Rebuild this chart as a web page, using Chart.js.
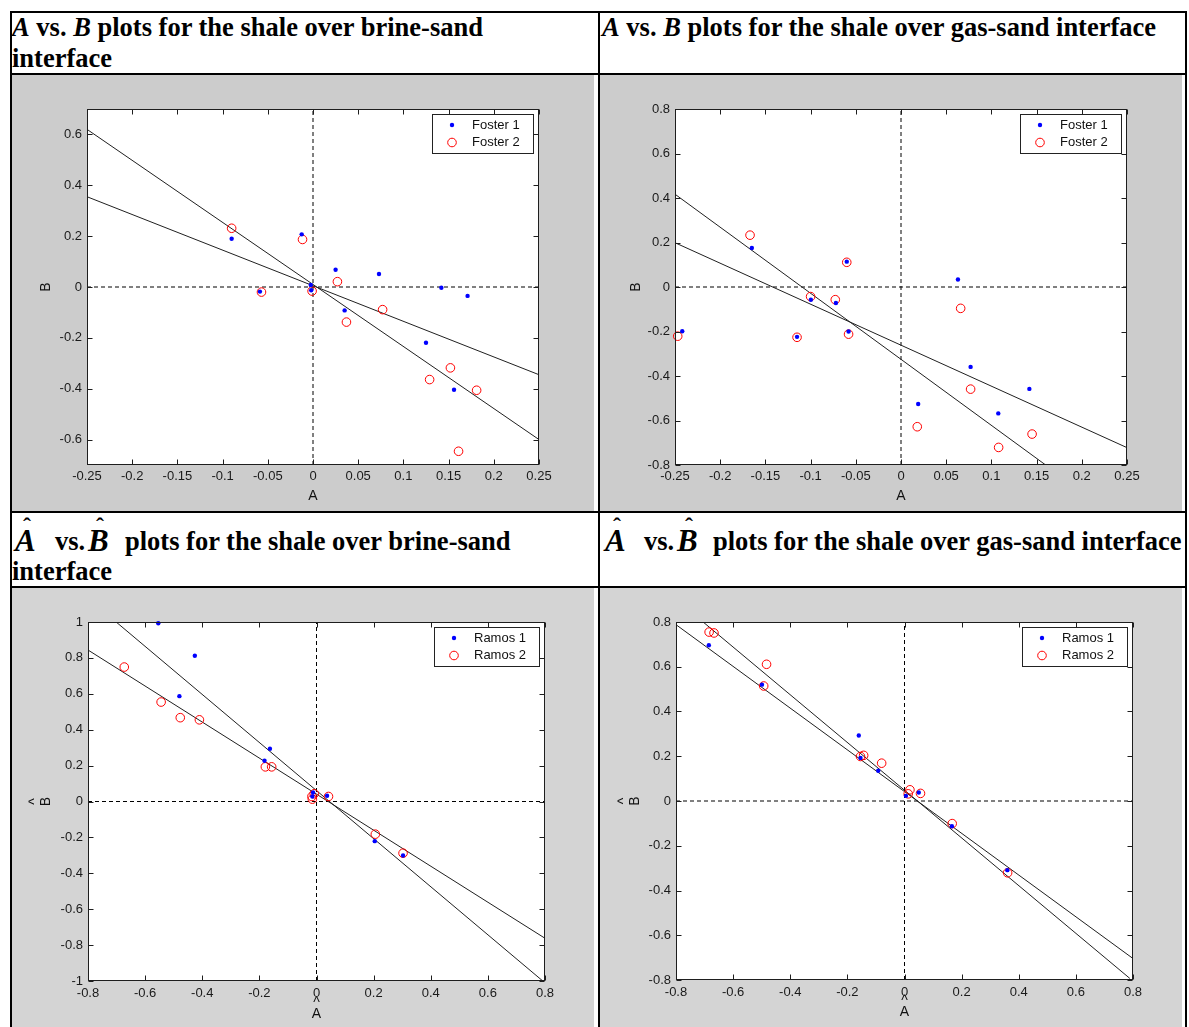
<!DOCTYPE html>
<html>
<head>
<meta charset="utf-8">
<script src="https://cdn.jsdelivr.net/npm/chart.js@4.4.0/dist/chart.umd.min.js"></script>
<style>
  html, body { margin: 0; padding: 0; background: #fff; }
  body { width: 1189px; height: 1027px; position: relative; overflow: hidden; }
  .rule { position: absolute; background: #000; }
  canvas.plot { position: absolute; display: block; }
  .line { position: absolute; height: 30px; font-family: "Liberation Serif", "Times New Roman", serif;
          font-weight: bold; font-size: 26.5px; line-height: 30px; white-space: nowrap; color: #000; }
  .line i { font-style: italic; }
  .line span { position: absolute; top: 0; }
  .eq { font-style: italic; font-size: 31px; line-height: 30px; }
  .hat { position: absolute; font-style: normal; font-size: 24px; line-height: 24px; }
</style>
</head>
<body>
<!-- table rules -->
<div class="rule" style="left:10px;top:11px;width:1177px;height:2px"></div>
<div class="rule" style="left:10px;top:73px;width:1177px;height:2px"></div>
<div class="rule" style="left:10px;top:511px;width:1177px;height:2px"></div>
<div class="rule" style="left:10px;top:586px;width:1177px;height:2px"></div>
<div class="rule" style="left:10px;top:11px;width:2px;height:1016px"></div>
<div class="rule" style="left:598px;top:11px;width:2px;height:1016px"></div>
<div class="rule" style="left:1185px;top:11px;width:2px;height:1016px"></div>

<!-- headers -->
<div class="line" style="left:12px;top:12px"><i>A</i> vs. <i>B</i> plots for the shale over brine-sand</div>
<div class="line" style="left:12px;top:43px">interface</div>
<div class="line" style="left:602px;top:12px"><i>A</i> vs. <i>B</i> plots for the shale over gas-sand interface</div>

<div class="line" style="left:0;top:526px;width:598px">
  <span class="eq" style="left:15px">A<b class="hat" style="left:8px;top:-12px">ˆ</b></span>
  <span style="left:55px">vs.</span>
  <span class="eq" style="left:88px">B<b class="hat" style="left:8px;top:-12px">ˆ</b></span>
  <span style="left:125px">plots for the shale over brine-sand</span>
</div>
<div class="line" style="left:12px;top:556px">interface</div>
<div class="line" style="left:590px;top:526px;width:597px">
  <span class="eq" style="left:15px">A<b class="hat" style="left:8px;top:-12px">ˆ</b></span>
  <span style="left:54px">vs.</span>
  <span class="eq" style="left:87px">B<b class="hat" style="left:8px;top:-12px">ˆ</b></span>
  <span style="left:123px">plots for the shale over gas-sand interface</span>
</div>

<canvas id="p1" class="plot" width="582" height="436" style="left:12px;top:75px"></canvas>
<canvas id="p2" class="plot" width="582" height="436" style="left:600px;top:75px"></canvas>
<canvas id="p3" class="plot" width="582" height="439" style="left:12px;top:588px"></canvas>
<canvas id="p4" class="plot" width="582" height="439" style="left:600px;top:588px"></canvas>

<script>
// ---- ticks ----
const X_TICKS_AB = [-0.25, -0.2, -0.15, -0.1, -0.05, 0, 0.05, 0.1, 0.15, 0.2, 0.25];
const X_LABELS_AB = ['-0.25', '-0.2', '-0.15', '-0.1', '-0.05', '0', '0.05', '0.1', '0.15', '0.2', '0.25'];
const Y_TICKS_P1 = [-0.6, -0.4, -0.2, 0, 0.2, 0.4, 0.6];
const Y_LABELS_P1 = ['-0.6', '-0.4', '-0.2', '0', '0.2', '0.4', '0.6'];
const Y_TICKS_08 = [-0.8, -0.6, -0.4, -0.2, 0, 0.2, 0.4, 0.6, 0.8];
const Y_LABELS_08 = ['-0.8', '-0.6', '-0.4', '-0.2', '0', '0.2', '0.4', '0.6', '0.8'];
const X_TICKS_HAT = [-0.8, -0.6, -0.4, -0.2, 0, 0.2, 0.4, 0.6, 0.8];
const X_LABELS_HAT = ['-0.8', '-0.6', '-0.4', '-0.2', '0', '0.2', '0.4', '0.6', '0.8'];
const Y_TICKS_P3 = [-1, -0.8, -0.6, -0.4, -0.2, 0, 0.2, 0.4, 0.6, 0.8, 1];
const Y_LABELS_P3 = ['-1', '-0.8', '-0.6', '-0.4', '-0.2', '0', '0.2', '0.4', '0.6', '0.8', '1'];

// ---- plot 1: A vs B, shale over brine-sand ----
const P1_F1_A = [-0.090, -0.0125, -0.0587, -0.0025, -0.002, 0.025, 0.073, 0.035, 0.142, 0.171, 0.125, 0.156];
const P1_F1_B = [0.190, 0.207, -0.018, 0.008, -0.013, 0.068, 0.051, -0.092, -0.003, -0.035, -0.219, -0.404];
const P1_F2_A = [-0.090, -0.0116, -0.057, -0.001, 0.027, 0.037, 0.077, 0.152, 0.129, 0.181, 0.161];
const P1_F2_B = [0.231, 0.187, -0.020, -0.016, 0.021, -0.138, -0.089, -0.318, -0.364, -0.406, -0.646];
const P1_FIT1_A = [-0.25, 0.25], P1_FIT1_B = [0.62, -0.60];
const P1_FIT2_A = [-0.25, 0.25], P1_FIT2_B = [0.355, -0.345];

// ---- plot 2: A vs B, shale over gas-sand ----
const P2_F1_A = [-0.242, -0.165, -0.115, -0.0997, -0.072, -0.060, -0.058, 0.063, 0.077, 0.019, 0.1076, 0.142];
const P2_F1_B = [-0.199, 0.175, -0.224, -0.057, -0.072, 0.114, -0.200, 0.034, -0.359, -0.526, -0.568, -0.458];
const P2_F2_A = [-0.247, -0.167, -0.115, -0.100, -0.0727, -0.060, -0.058, 0.066, 0.077, 0.018, 0.108, 0.145];
const P2_F2_B = [-0.221, 0.233, -0.226, -0.043, -0.057, 0.111, -0.212, -0.096, -0.459, -0.628, -0.721, -0.661];
const P2_FIT1_A = [-0.25, 0.25], P2_FIT1_B = [0.417, -1.067];
const P2_FIT2_A = [-0.25, 0.25], P2_FIT2_B = [0.199, -0.722];

// ---- plot 3: A^ vs B^, shale over brine-sand ----
const P3_R1_A = [-0.554, -0.426, -0.480, -0.163, -0.182, -0.012, -0.0145, 0.037, 0.204, 0.303];
const P3_R1_B = [0.993, 0.812, 0.587, 0.294, 0.227, 0.050, 0.028, 0.032, -0.221, -0.301];
const P3_R2_A = [-0.673, -0.544, -0.477, -0.410, -0.179, -0.157, -0.016, -0.0145, -0.008, 0.042, 0.206, 0.303];
const P3_R2_B = [0.749, 0.554, 0.467, 0.455, 0.193, 0.193, 0.028, 0.013, 0.043, 0.028, -0.182, -0.288];
const P3_FIT1_A = [-0.70, 0.79], P3_FIT1_B = [0.998, -0.997];
const P3_FIT2_A = [-0.8, 0.8], P3_FIT2_B = [0.844, -0.762];

// ---- plot 4: A^ vs B^, shale over gas-sand ----
const P4_R1_A = [-0.685, -0.499, -0.160, -0.154, -0.092, 0.005, 0.050, 0.166, 0.360];
const P4_R1_B = [0.696, 0.520, 0.293, 0.192, 0.135, 0.023, 0.038, -0.113, -0.309];
const P4_R2_A = [-0.684, -0.667, -0.483, -0.493, -0.154, -0.143, -0.080, 0.019, 0.013, 0.056, 0.167, 0.361];
const P4_R2_B = [0.755, 0.751, 0.611, 0.514, 0.199, 0.204, 0.169, 0.050, 0.032, 0.034, -0.101, -0.321];
const P4_FIT1_A = [-0.705, 0.789], P4_FIT1_B = [0.8, -0.793];
const P4_FIT2_A = [-0.8, 0.8], P4_FIT2_B = [0.788, -0.704];

const FOSTER = ['Foster 1', 'Foster 2'];
const RAMOS = ['Ramos 1', 'Ramos 2'];

const SANS = '"Liberation Sans", Arial, Helvetica, sans-serif';
const pts = (xs, ys) => xs.map((x, i) => ({ x, y: ys[i] }));

// gray figure + white axes
const backdrop = {
  id: 'backdrop',
  beforeDraw(chart, args, opts) {
    const { ctx, chartArea: a, width, height } = chart;
    ctx.save();
    ctx.fillStyle = opts.bg;
    ctx.fillRect(0, 0, width, height);
    ctx.fillStyle = '#fff';
    ctx.fillRect(a.left, a.top, a.right - a.left, a.bottom - a.top);
    ctx.restore();
  },
};

// matlab box: frame + inward ticks on all four sides
const boxTicks = {
  id: 'boxTicks',
  afterDatasetsDraw(chart) {
    const { ctx, chartArea: a, scales } = chart;
    const L = Math.round(a.left) + 0.5, R = Math.round(a.right) - 0.5;
    const T = Math.round(a.top) + 0.5, B = Math.round(a.bottom) - 0.5;
    ctx.save();
    ctx.strokeStyle = '#1e1e1e';
    ctx.lineWidth = 1;
    ctx.beginPath();
    scales.x.ticks.forEach((t) => {
      const px = Math.round(scales.x.getPixelForValue(t.value)) + 0.5;
      ctx.moveTo(px, B); ctx.lineTo(px, B - 5);
      ctx.moveTo(px, T); ctx.lineTo(px, T + 5);
    });
    scales.y.ticks.forEach((t) => {
      const py = Math.round(scales.y.getPixelForValue(t.value)) + 0.5;
      ctx.moveTo(L, py); ctx.lineTo(L + 5, py);
      ctx.moveTo(R, py); ctx.lineTo(R - 5, py);
    });
    ctx.stroke();
    ctx.strokeRect(L, T, R - L, B - T);
    ctx.restore();
  },
};

// legend box in the top-right corner of the axes
const legendBox = {
  id: 'legendBox',
  afterDraw(chart) {
    const { ctx, chartArea: a } = chart;
    const items = chart.data.datasets.filter((d) => d.inLegend);
    ctx.save();
    ctx.font = '13px ' + SANS;
    const tw = Math.max(...items.map((d) => ctx.measureText(d.label).width));
    const w = Math.round(40 + tw + 13), h = 39;
    const x0 = Math.round(a.right - 6 - w), y0 = Math.round(a.top + 5);
    ctx.fillStyle = '#fff';
    ctx.fillRect(x0, y0, w, h);
    ctx.strokeStyle = '#222';
    ctx.lineWidth = 1;
    ctx.strokeRect(x0 + 0.5, y0 + 0.5, w, h);
    items.forEach((d, i) => {
      const cy = y0 + 11 + i * 17.5, cx = x0 + 20;
      ctx.beginPath();
      ctx.arc(cx, cy, d.pointRadius, 0, Math.PI * 2);
      if (d.pointBorderWidth) {
        ctx.strokeStyle = d.pointBorderColor; ctx.lineWidth = d.pointBorderWidth; ctx.stroke();
      } else {
        ctx.fillStyle = d.pointBackgroundColor; ctx.fill();
      }
      ctx.fillStyle = '#111';
      ctx.textBaseline = 'middle';
      ctx.fillText(d.label, x0 + 40, cy);
    });
    ctx.restore();
  },
};

function makePlot(id, o) {
  const cv = document.getElementById(id);
  const W = cv.width, H = cv.height;
  const padL = 8, padB = 4;
  const tFont = { family: SANS, size: 14, lineHeight: o.hat ? 0.75 : 1.2 };
  const lh = tFont.size * tFont.lineHeight;
  const nLines = o.hat ? 2 : 1;
  const yTitlePad = (o.area.l - o.titleOff.y) - padL - lh / 2 - lh * (nLines - 1);
  const xTitlePad = H - padB - lh / 2 - (o.area.b + o.titleOff.x);
  const fitLine = { showLine: true, borderColor: '#202020', borderWidth: 1, pointRadius: 0, fill: false };
  const zeroLine = { showLine: true, borderColor: '#000', borderWidth: 1, borderDash: [4, 3], pointRadius: 0, fill: false };

  return new Chart(cv, {
    type: 'scatter',
    data: {
      datasets: [
        { label: o.names[0], inLegend: true, data: pts(o.s1[0], o.s1[1]), pointRadius: 2.2,
          pointBackgroundColor: '#0000ff', pointBorderColor: '#0000ff', pointBorderWidth: 0, clip: false },
        { label: o.names[1], inLegend: true, data: pts(o.s2[0], o.s2[1]), pointRadius: 4.3,
          pointBackgroundColor: 'rgba(0,0,0,0)', pointBorderColor: '#ff0000', pointBorderWidth: 1, clip: false },
        { ...fitLine, data: pts(o.fit1[0], o.fit1[1]) },
        { ...fitLine, data: pts(o.fit2[0], o.fit2[1]) },
        { ...zeroLine, data: [{ x: 0, y: o.yMin }, { x: 0, y: o.yMax }] },
        { ...zeroLine, data: [{ x: o.xMin, y: 0 }, { x: o.xMax, y: 0 }] },
      ],
    },
    options: {
      responsive: false, animation: false, devicePixelRatio: 1, events: [],
      layout: { autoPadding: false, padding: { left: padL, right: W - o.area.r, top: o.area.t, bottom: padB } },
      plugins: { legend: { display: false }, tooltip: { enabled: false }, backdrop: { bg: o.bg } },
      scales: {
        x: {
          type: 'linear', min: o.xMin, max: o.xMax, bounds: 'data',
          afterBuildTicks: (s) => { s.ticks = o.xTicks.map((v) => ({ value: v })); },
          afterFit: (s) => { s.height = H - padB - o.area.b; s.paddingLeft = 0; s.paddingRight = 0; },
          ticks: { callback: (v, i) => o.xLabels[i], autoSkip: false, maxRotation: 0, padding: o.xPad,
                   color: '#1a1a1a', font: { family: SANS, size: 13 } },
          grid: { display: false, drawTicks: false }, border: { display: false },
          title: { display: true, text: o.xTitle, color: '#111', font: tFont, padding: { top: 0, bottom: xTitlePad } },
        },
        y: {
          type: 'linear', min: o.yMin, max: o.yMax, bounds: 'data',
          afterBuildTicks: (s) => { s.ticks = o.yTicks.map((v) => ({ value: v })); },
          afterFit: (s) => { s.width = o.area.l - padL; s.paddingTop = 0; s.paddingBottom = 0; },
          ticks: { callback: (v, i) => o.yLabels[i], autoSkip: false, padding: 5,
                   color: '#1a1a1a', font: { family: SANS, size: 13 } },
          grid: { display: false, drawTicks: false }, border: { display: false },
          title: { display: true, text: o.yTitle, color: '#111', font: tFont, padding: { top: yTitlePad, bottom: 0 } },
        },
      },
    },
    plugins: [backdrop, boxTicks, legendBox],
  });
}

makePlot('p1', {
  bg: '#cccccc', area: { l: 75, r: 527, t: 34, b: 390 }, titleOff: { x: 31, y: 40.5 }, xPad: 4,
  xMin: -0.25, xMax: 0.25, yMin: -0.7, yMax: 0.7,
  xTicks: X_TICKS_AB, xLabels: X_LABELS_AB, yTicks: Y_TICKS_P1, yLabels: Y_LABELS_P1,
  xTitle: 'A', yTitle: 'B', names: FOSTER,
  s1: [P1_F1_A, P1_F1_B], s2: [P1_F2_A, P1_F2_B], fit1: [P1_FIT1_A, P1_FIT1_B], fit2: [P1_FIT2_A, P1_FIT2_B],
});
makePlot('p2', {
  bg: '#cccccc', area: { l: 75, r: 527, t: 34, b: 390 }, titleOff: { x: 31, y: 39 }, xPad: 4,
  xMin: -0.25, xMax: 0.25, yMin: -0.8, yMax: 0.8,
  xTicks: X_TICKS_AB, xLabels: X_LABELS_AB, yTicks: Y_TICKS_08, yLabels: Y_LABELS_08,
  xTitle: 'A', yTitle: 'B', names: FOSTER,
  s1: [P2_F1_A, P2_F1_B], s2: [P2_F2_A, P2_F2_B], fit1: [P2_FIT1_A, P2_FIT1_B], fit2: [P2_FIT2_A, P2_FIT2_B],
});
makePlot('p3', {
  bg: '#d4d4d4', hat: true, area: { l: 76, r: 533, t: 34, b: 393 }, titleOff: { x: 33, y: 42 }, xPad: 4.5,
  xMin: -0.8, xMax: 0.8, yMin: -1, yMax: 1,
  xTicks: X_TICKS_HAT, xLabels: X_LABELS_HAT, yTicks: Y_TICKS_P3, yLabels: Y_LABELS_P3,
  xTitle: ['^', 'A'], yTitle: ['^', 'B'], names: RAMOS,
  s1: [P3_R1_A, P3_R1_B], s2: [P3_R2_A, P3_R2_B], fit1: [P3_FIT1_A, P3_FIT1_B], fit2: [P3_FIT2_A, P3_FIT2_B],
});
makePlot('p4', {
  bg: '#d4d4d4', hat: true, area: { l: 76, r: 533, t: 34, b: 392 }, titleOff: { x: 32, y: 41 }, xPad: 4.5,
  xMin: -0.8, xMax: 0.8, yMin: -0.8, yMax: 0.8,
  xTicks: X_TICKS_HAT, xLabels: X_LABELS_HAT, yTicks: Y_TICKS_08, yLabels: Y_LABELS_08,
  xTitle: ['^', 'A'], yTitle: ['^', 'B'], names: RAMOS,
  s1: [P4_R1_A, P4_R1_B], s2: [P4_R2_A, P4_R2_B], fit1: [P4_FIT1_A, P4_FIT1_B], fit2: [P4_FIT2_A, P4_FIT2_B],
});
</script>
</body>
</html>
